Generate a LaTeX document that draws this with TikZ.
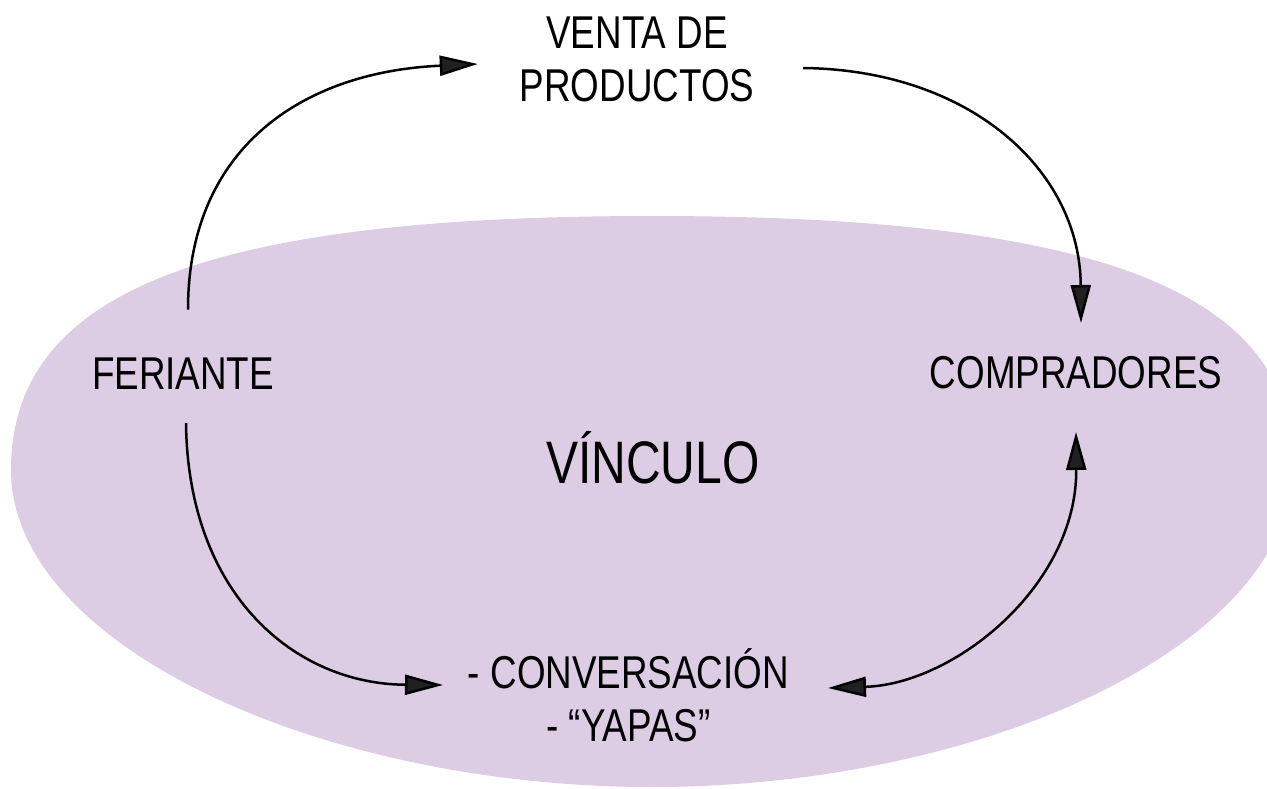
\documentclass[tikz,border=0pt]{standalone}
\usepackage{fontspec}
\setmainfont[FakeStretch=0.8]{Liberation Sans}
\usetikzlibrary{arrows.meta}
\definecolor{lila}{RGB}{220,205,229}
\definecolor{tipgray}{RGB}{32,32,32}
\tikzset{
  lbl/.style={inner sep=0pt, outer sep=0pt, font=\fontsize{46}{53}\selectfont, align=center},
  onel/.style={lbl, text height=33pt, text depth=0pt},
  conn/.style={line width=2.5pt, draw=black, -{Triangle[length=38pt,width=20pt,fill=tipgray]}},
  bothconn/.style={line width=2.5pt, draw=black, {Triangle[length=38pt,width=20pt,fill=tipgray]}-{Triangle[length=38pt,width=20pt,fill=tipgray]}}
}
\begin{document}
\begin{tikzpicture}[x=1pt,y=-1pt]
\useasboundingbox (0,0) rectangle (1267,788);
\clip (0,0) rectangle (1267,788);
\fill[lila] (652,216) .. controls (205,216) and (11,292) .. (11,470)
  .. controls (11,645) and (320,787) .. (652,787)
  .. controls (984,787) and (1293,645) .. (1293,465)
  .. controls (1293,292) and (1099,216) .. (652,216) -- cycle;
\node[lbl] (venta) at (637,59) {VENTA DE\\PRODUCTOS};
\node[onel] (feriante) at (183,373) {FERIANTE};
\node[onel] (compradores) at (1076,371.5) {COMPRADORES};
\node[inner sep=0pt, font=\fontsize{60}{70}\selectfont, text height=43pt, text depth=0pt] (vinculo) at (653,461.5) {VÍNCULO};
\node[lbl] (conv) at (628.5,695) {- CONVERSACIÓN\\- “YAPAS”};
\draw[conn] ([shift={(5,-47)}]feriante.north) .. controls (188,150) and (300,72) .. ([shift={(-42,5)}]venta.west);
\draw[conn] ([shift={(49,9)}]venta.east) .. controls (970,70) and (1080,170) .. ([shift={(5,-32)}]compradores.north);
\draw[conn] ([shift={(3,33.5)}]feriante.south) .. controls (188,595) and (295,684) .. ([shift={(-25,-10)}]conv.west);
\draw[bothconn] ([shift={(39,-7)}]conv.east) .. controls (955,684) and (1077,585) .. ([shift={(0,44)}]compradores.south);
\end{tikzpicture}
\end{document}
